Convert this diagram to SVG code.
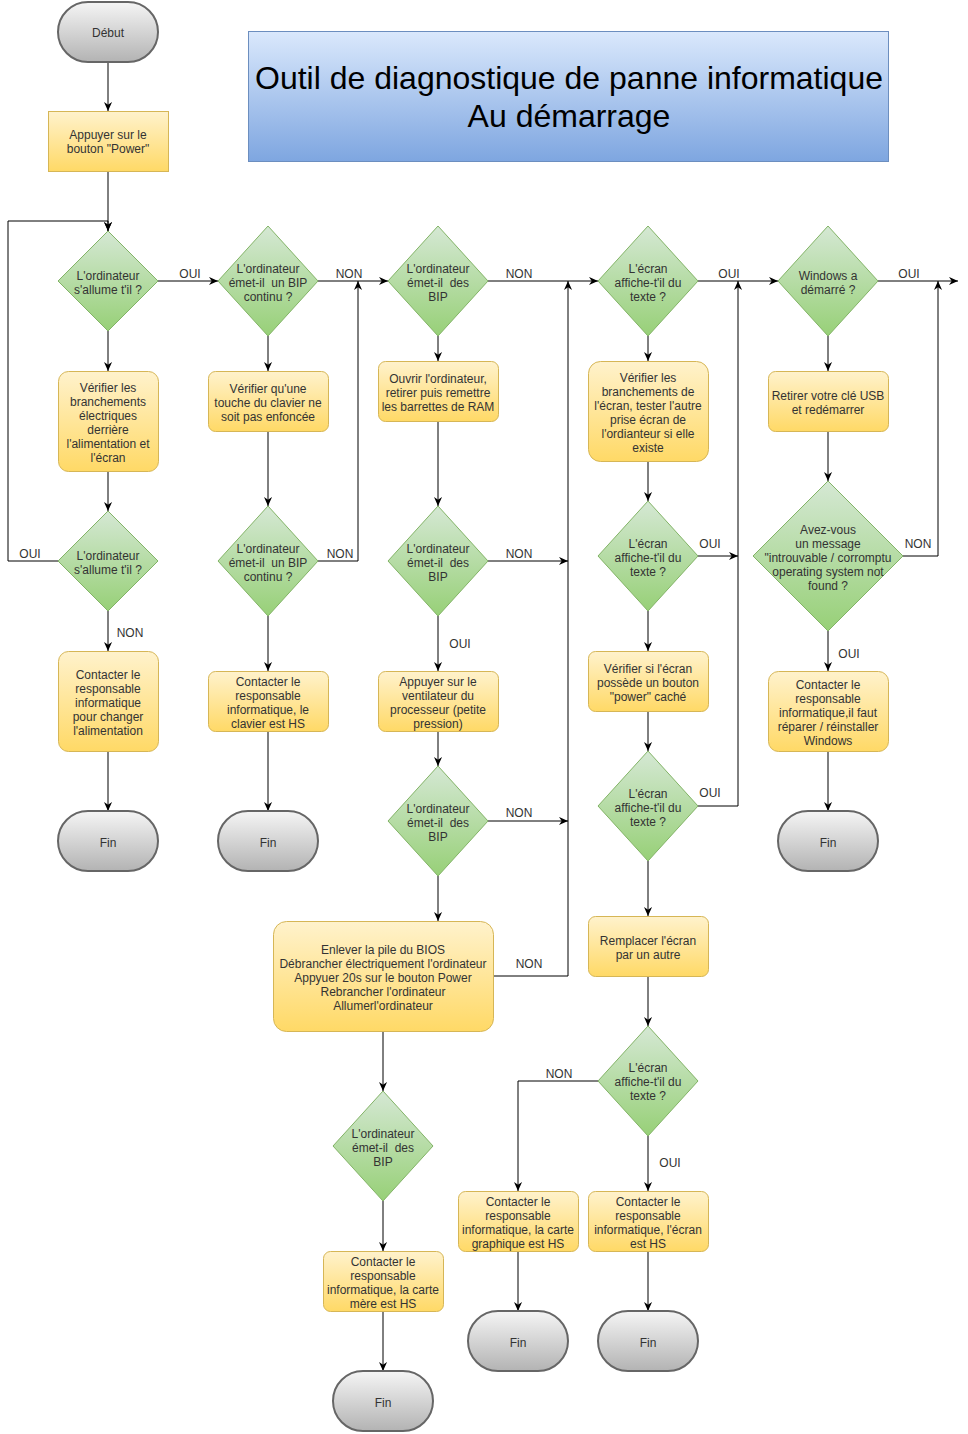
<svg xmlns="http://www.w3.org/2000/svg" width="968" height="1434" viewBox="0 0 968 1434">
<defs>
<linearGradient id="gGreen" x1="0" y1="0" x2="0" y2="1"><stop offset="0" stop-color="#d5e8d4"/><stop offset="1" stop-color="#97d077"/></linearGradient>
<linearGradient id="gYellow" x1="0" y1="0" x2="0" y2="1"><stop offset="0" stop-color="#fff2cc"/><stop offset="1" stop-color="#ffd966"/></linearGradient>
<linearGradient id="gGray" x1="0" y1="0" x2="0" y2="1"><stop offset="0" stop-color="#f5f5f5"/><stop offset="1" stop-color="#b3b3b3"/></linearGradient>
<linearGradient id="gBlue" x1="0" y1="0" x2="0" y2="1"><stop offset="0" stop-color="#dae8fc"/><stop offset="1" stop-color="#7ea6e0"/></linearGradient>
<marker id="arr" viewBox="0 0 10 10" refX="10" refY="5" markerWidth="9" markerHeight="9" markerUnits="userSpaceOnUse" orient="auto">
<path d="M0,0.5 L10,5 L0,9.5 L3,5 Z" fill="#000"/>
</marker>
<style>
.dec{fill:url(#gGreen);stroke:#82b366;stroke-width:1}
.box{fill:url(#gYellow);stroke:#d6b656;stroke-width:1}
.term{fill:url(#gGray);stroke:#666666;stroke-width:2}
.t{font-family:"Liberation Sans",Arial,sans-serif;font-size:12px;fill:#333333;text-anchor:middle;white-space:pre}
.lbl{font-family:"Liberation Sans",Arial,sans-serif;font-size:12px;fill:#333333;text-anchor:middle}
.c{fill:none;stroke:#000;stroke-width:1;marker-end:url(#arr)}
</style>
</defs>
<rect width="968" height="1434" fill="#ffffff"/>

<g id="title">
<rect x="248.5" y="31.5" width="640" height="130" fill="url(#gBlue)" stroke="#6c8ebf"/>
<text x="569" y="89" font-family="Liberation Sans, Arial, sans-serif" font-size="32" fill="#000" text-anchor="middle">Outil de diagnostique de panne informatique</text>
<text x="569" y="127" font-family="Liberation Sans, Arial, sans-serif" font-size="32" fill="#000" text-anchor="middle">Au démarrage</text>
</g>

<g id="connectors">
<path class="c" d="M108,62 V111"/>
<path class="c" d="M108,171 V231"/>
<path class="c" d="M58,561 H8 V221 H108 V231"/>
<path class="c" d="M158,281 H218"/>
<path class="c" d="M108,331 V371"/>
<path class="c" d="M108,471 V511"/>
<path class="c" d="M108,611 V651"/>
<path class="c" d="M108,751 V811"/>
<path class="c" d="M268,336 V371"/>
<path class="c" d="M268,431 V506"/>
<path class="c" d="M318,561 H358 V281"/>
<path class="c" d="M318,281 H388"/>
<path class="c" d="M268,616 V671"/>
<path class="c" d="M268,731 V811"/>
<path class="c" d="M438,336 V361"/>
<path class="c" d="M438,421 V506"/>
<path class="c" d="M488,281 H598"/>
<path class="c" d="M488,561 H568"/>
<path class="c" d="M438,616 V671"/>
<path class="c" d="M438,731 V766"/>
<path class="c" d="M488,821 H568"/>
<path class="c" d="M438,876 V921"/>
<path class="c" d="M493,976 H568 V281"/>
<path class="c" d="M383,1031 V1091"/>
<path class="c" d="M383,1201 V1251"/>
<path class="c" d="M383,1311 V1371"/>
<path class="c" d="M648,336 V361"/>
<path class="c" d="M648,461 V501"/>
<path class="c" d="M698,281 H778"/>
<path class="c" d="M698,556 H738"/>
<path class="c" d="M648,611 V651"/>
<path class="c" d="M648,711 V751"/>
<path class="c" d="M698,806 H738 V281"/>
<path class="c" d="M648,861 V916"/>
<path class="c" d="M648,976 V1026"/>
<path class="c" d="M598,1081 H518 V1191"/>
<path class="c" d="M648,1136 V1191"/>
<path class="c" d="M518,1251 V1311"/>
<path class="c" d="M648,1251 V1311"/>
<path class="c" d="M828,336 V371"/>
<path class="c" d="M828,431 V481"/>
<path class="c" d="M878,281 H958"/>
<path class="c" d="M903,556 H938 V281"/>
<path class="c" d="M828,631 V671"/>
<path class="c" d="M828,751 V811"/>
<text class="lbl" x="30" y="558">OUI</text>
<text class="lbl" x="190" y="278">OUI</text>
<text class="lbl" x="130" y="637">NON</text>
<text class="lbl" x="340" y="558">NON</text>
<text class="lbl" x="349" y="278">NON</text>
<text class="lbl" x="519" y="278">NON</text>
<text class="lbl" x="519" y="558">NON</text>
<text class="lbl" x="460" y="648">OUI</text>
<text class="lbl" x="519" y="817">NON</text>
<text class="lbl" x="529" y="968">NON</text>
<text class="lbl" x="729" y="278">OUI</text>
<text class="lbl" x="710" y="548">OUI</text>
<text class="lbl" x="710" y="797">OUI</text>
<text class="lbl" x="559" y="1078">NON</text>
<text class="lbl" x="670" y="1167">OUI</text>
<text class="lbl" x="909" y="278">OUI</text>
<text class="lbl" x="918" y="548">NON</text>
<text class="lbl" x="849" y="658">OUI</text>
</g>

<g id="debut"><rect class="term" x="58" y="2" width="100" height="60" rx="30" ry="30"/><text class="t" x="108" y="37">Début</text></g>
<g id="appuyer"><rect class="box" x="48.5" y="111.5" width="120" height="60"/><text class="t" x="108" y="139">Appuyer sur le</text><text class="t" x="108" y="153">bouton "Power"</text></g>

<g id="d1"><polygon class="dec" points="108,231 158,281 108,331 58,281"/><text class="t" x="108" y="280">L'ordinateur</text><text class="t" x="108" y="294">s'allume t'il ?</text></g>
<g id="b1"><rect class="box" x="58.5" y="371.5" width="100" height="100" rx="10"/><text class="t" x="108" y="392">Vérifier les</text><text class="t" x="108" y="406">branchements</text><text class="t" x="108" y="420">électriques</text><text class="t" x="108" y="434">derrière</text><text class="t" x="108" y="448">l'alimentation et</text><text class="t" x="108" y="462">l'écran</text></g>
<g id="d2"><polygon class="dec" points="108,511 158,561 108,611 58,561"/><text class="t" x="108" y="560">L'ordinateur</text><text class="t" x="108" y="574">s'allume t'il ?</text></g>
<g id="b2"><rect class="box" x="58.5" y="651.5" width="100" height="100" rx="10"/><text class="t" x="108" y="679">Contacter le</text><text class="t" x="108" y="693">responsable</text><text class="t" x="108" y="707">informatique</text><text class="t" x="108" y="721">pour changer</text><text class="t" x="108" y="735">l'alimentation</text></g>
<g id="fin1"><rect class="term" x="58" y="811" width="100" height="60" rx="30" ry="30"/><text class="t" x="108" y="847">Fin</text></g>

<g id="d3"><polygon class="dec" points="268,226 318,281 268,336 218,281"/><text class="t" x="268" y="273">L'ordinateur</text><text class="t" x="268" y="287">émet-il  un BIP</text><text class="t" x="268" y="301">continu ?</text></g>
<g id="b3"><rect class="box" x="208.5" y="371.5" width="120" height="60" rx="7"/><text class="t" x="268" y="393">Vérifier qu'une</text><text class="t" x="268" y="407">touche du clavier ne</text><text class="t" x="268" y="421">soit pas enfoncée</text></g>
<g id="d4"><polygon class="dec" points="268,506 318,561 268,616 218,561"/><text class="t" x="268" y="553">L'ordinateur</text><text class="t" x="268" y="567">émet-il  un BIP</text><text class="t" x="268" y="581">continu ?</text></g>
<g id="b4"><rect class="box" x="208.5" y="671.5" width="120" height="60" rx="7"/><text class="t" x="268" y="686">Contacter le</text><text class="t" x="268" y="700">responsable</text><text class="t" x="268" y="714">informatique, le</text><text class="t" x="268" y="728">clavier est HS</text></g>
<g id="fin2"><rect class="term" x="218" y="811" width="100" height="60" rx="30" ry="30"/><text class="t" x="268" y="847">Fin</text></g>

<g id="d5"><polygon class="dec" points="438,226 488,281 438,336 388,281"/><text class="t" x="438" y="273">L'ordinateur</text><text class="t" x="438" y="287">émet-il  des</text><text class="t" x="438" y="301">BIP</text></g>
<g id="b5"><rect class="box" x="378.5" y="361.5" width="120" height="60" rx="7"/><text class="t" x="438" y="383">Ouvrir l'ordinateur,</text><text class="t" x="438" y="397">retirer puis remettre</text><text class="t" x="438" y="411">les barrettes de RAM</text></g>
<g id="d6"><polygon class="dec" points="438,506 488,561 438,616 388,561"/><text class="t" x="438" y="553">L'ordinateur</text><text class="t" x="438" y="567">émet-il  des</text><text class="t" x="438" y="581">BIP</text></g>
<g id="b6"><rect class="box" x="378.5" y="671.5" width="120" height="60" rx="7"/><text class="t" x="438" y="686">Appuyer sur le</text><text class="t" x="438" y="700">ventilateur du</text><text class="t" x="438" y="714">processeur (petite</text><text class="t" x="438" y="728">pression)</text></g>
<g id="d7"><polygon class="dec" points="438,766 488,821 438,876 388,821"/><text class="t" x="438" y="813">L'ordinateur</text><text class="t" x="438" y="827">émet-il  des</text><text class="t" x="438" y="841">BIP</text></g>
<g id="b7"><rect class="box" x="273.5" y="921.5" width="220" height="110" rx="13"/><text class="t" x="383" y="954">Enlever la pile du BIOS</text><text class="t" x="383" y="968">Débrancher électriquement l'ordinateur</text><text class="t" x="383" y="982">Appyuer 20s sur le bouton Power</text><text class="t" x="383" y="996">Rebrancher l'ordinateur</text><text class="t" x="383" y="1010">Allumerl'ordinateur</text></g>
<g id="d8"><polygon class="dec" points="383,1091 433,1146 383,1201 333,1146"/><text class="t" x="383" y="1138">L'ordinateur</text><text class="t" x="383" y="1152">émet-il  des</text><text class="t" x="383" y="1166">BIP</text></g>
<g id="b8"><rect class="box" x="323.5" y="1251.5" width="120" height="60" rx="7"/><text class="t" x="383" y="1266">Contacter le</text><text class="t" x="383" y="1280">responsable</text><text class="t" x="383" y="1294">informatique, la carte</text><text class="t" x="383" y="1308">mère est HS</text></g>
<g id="fin3"><rect class="term" x="333" y="1371" width="100" height="60" rx="30" ry="30"/><text class="t" x="383" y="1407">Fin</text></g>

<g id="d9"><polygon class="dec" points="648,226 698,281 648,336 598,281"/><text class="t" x="648" y="273">L'écran</text><text class="t" x="648" y="287">affiche-t'il du</text><text class="t" x="648" y="301">texte ?</text></g>
<g id="b9"><rect class="box" x="588.5" y="361.5" width="120" height="100" rx="12"/><text class="t" x="648" y="382">Vérifier les</text><text class="t" x="648" y="396">branchements de</text><text class="t" x="648" y="410">l'écran, tester l'autre</text><text class="t" x="648" y="424">prise écran de</text><text class="t" x="648" y="438">l'ordianteur si elle</text><text class="t" x="648" y="452">existe</text></g>
<g id="d10"><polygon class="dec" points="648,501 698,556 648,611 598,556"/><text class="t" x="648" y="548">L'écran</text><text class="t" x="648" y="562">affiche-t'il du</text><text class="t" x="648" y="576">texte ?</text></g>
<g id="b10"><rect class="box" x="588.5" y="651.5" width="120" height="60" rx="7"/><text class="t" x="648" y="673">Vérifier si l'écran</text><text class="t" x="648" y="687">possède un bouton</text><text class="t" x="648" y="701">"power" caché</text></g>
<g id="d11"><polygon class="dec" points="648,751 698,806 648,861 598,806"/><text class="t" x="648" y="798">L'écran</text><text class="t" x="648" y="812">affiche-t'il du</text><text class="t" x="648" y="826">texte ?</text></g>
<g id="b11"><rect class="box" x="588.5" y="916.5" width="120" height="60" rx="7"/><text class="t" x="648" y="945">Remplacer l'écran</text><text class="t" x="648" y="959">par un autre</text></g>
<g id="d12"><polygon class="dec" points="648,1026 698,1081 648,1136 598,1081"/><text class="t" x="648" y="1072">L'écran</text><text class="t" x="648" y="1086">affiche-t'il du</text><text class="t" x="648" y="1100">texte ?</text></g>
<g id="b12"><rect class="box" x="458.5" y="1191.5" width="120" height="60" rx="7"/><text class="t" x="518" y="1206">Contacter le</text><text class="t" x="518" y="1220">responsable</text><text class="t" x="518" y="1234">informatique, la carte</text><text class="t" x="518" y="1248">graphique est HS</text></g>
<g id="b13"><rect class="box" x="588.5" y="1191.5" width="120" height="60" rx="7"/><text class="t" x="648" y="1206">Contacter le</text><text class="t" x="648" y="1220">responsable</text><text class="t" x="648" y="1234">informatique, l'écran</text><text class="t" x="648" y="1248">est HS</text></g>
<g id="fin4"><rect class="term" x="468" y="1311" width="100" height="60" rx="30" ry="30"/><text class="t" x="518" y="1347">Fin</text></g>
<g id="fin5"><rect class="term" x="598" y="1311" width="100" height="60" rx="30" ry="30"/><text class="t" x="648" y="1347">Fin</text></g>

<g id="d13"><polygon class="dec" points="828,226 878,281 828,336 778,281"/><text class="t" x="828" y="280">Windows a</text><text class="t" x="828" y="294">démarré ?</text></g>
<g id="b14"><rect class="box" x="768.5" y="371.5" width="120" height="60" rx="7"/><text class="t" x="828" y="400">Retirer votre clé USB</text><text class="t" x="828" y="414">et redémarrer</text></g>
<g id="d14"><polygon class="dec" points="828,481 903,556 828,631 753,556"/><text class="t" x="828" y="534">Avez-vous</text><text class="t" x="828" y="548">un message</text><text class="t" x="828" y="562">"introuvable / corromptu</text><text class="t" x="828" y="576">operating system not</text><text class="t" x="828" y="590">found ?</text></g>
<g id="b15"><rect class="box" x="768.5" y="671.5" width="120" height="80" rx="10"/><text class="t" x="828" y="689">Contacter le</text><text class="t" x="828" y="703">responsable</text><text class="t" x="828" y="717">informatique,il faut</text><text class="t" x="828" y="731">réparer / réinstaller</text><text class="t" x="828" y="745">Windows</text></g>
<g id="fin6"><rect class="term" x="778" y="811" width="100" height="60" rx="30" ry="30"/><text class="t" x="828" y="847">Fin</text></g>
</svg>
